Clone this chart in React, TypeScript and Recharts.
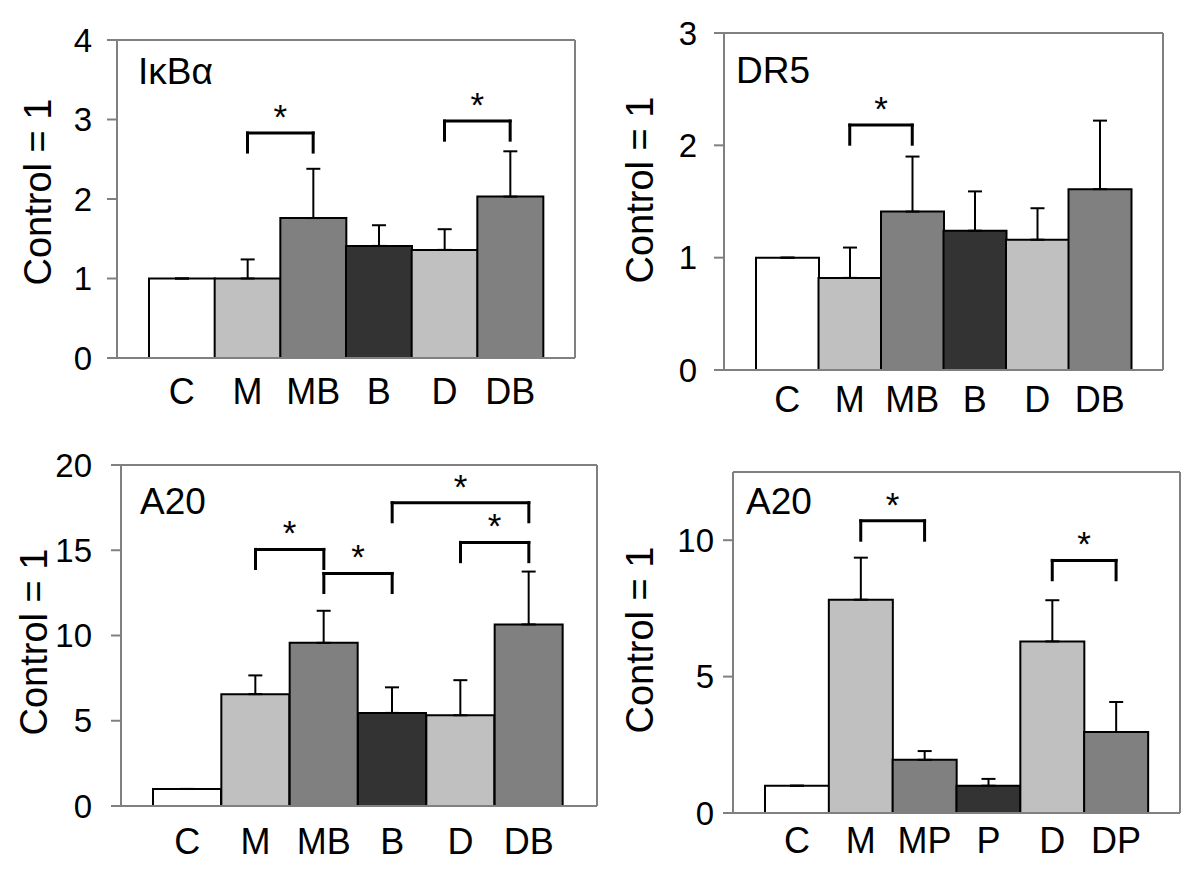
import { Bar, BarChart, CartesianGrid, Cell, ErrorBar, ReferenceLine, XAxis, YAxis } from 'recharts';

const FONT = '"Liberation Sans", Arial, Helvetica, sans-serif';
const FRAME = '#808080';

const groupsB = ['C', 'M', 'MB', 'B', 'D', 'DB'];
const groupsP = ['C', 'M', 'MP', 'P', 'D', 'DP'];
const fills = ['#ffffff', '#c0c0c0', '#808080', '#333333', '#c0c0c0', '#808080'];

// IκBα
const ikbaMean = [1, 1.0, 1.76, 1.41, 1.36, 2.03];
const ikbaSd = [0, 0.24, 0.62, 0.26, 0.26, 0.57];
const ikbaTicks = [0, 1, 2, 3, 4];
const ikbaSig = [
  { from: 'M', to: 'MB', top: 2.83, foot: 2.59 },
  { from: 'D', to: 'DB', top: 2.98, foot: 2.74 },
];

// DR5
const dr5Mean = [1, 0.82, 1.41, 1.24, 1.16, 1.61];
const dr5Sd = [0, 0.27, 0.49, 0.35, 0.28, 0.61];
const dr5Ticks = [0, 1, 2, 3];
const dr5Sig = [{ from: 'M', to: 'MB', top: 2.18, foot: 2.01 }];

// A20 (B series)
const a20bMean = [1, 6.56, 9.57, 5.46, 5.32, 10.65];
const a20bSd = [0, 1.1, 1.88, 1.5, 2.06, 3.1];
const a20bTicks = [0, 5, 10, 15, 20];
const a20bSig = [
  { from: 'M', to: 'MB', top: 15.05, foot: 13.93 },
  { from: 'MB', to: 'B', top: 13.64, foot: 12.52 },
  { from: 'B', to: 'DB', top: 17.79, foot: 16.67 },
  { from: 'D', to: 'DB', top: 15.46, foot: 14.33 },
];

// A20 (P series)
const a20pMean = [1, 7.82, 1.95, 1.0, 6.29, 2.97];
const a20pSd = [0, 1.54, 0.32, 0.25, 1.51, 1.1];
const a20pTicks = [0, 5, 10];
const a20pSig = [
  { from: 'M', to: 'MP', top: 10.71, foot: 10.0 },
  { from: 'D', to: 'DP', top: 9.26, foot: 8.55 },
];

type Sig = { from: string; to: string; top: number; foot: number };

interface PanelProps {
  title: string;
  groups: string[];
  mean: number[];
  sd: number[];
  ticks: number[];
  max: number;
  sig: Sig[];
  box: { left: number; top: number; width: number; height: number };
  pad: [number, number];
  tickGap: number;
  catGap: number;
  titleAt: [number, number];
  labelAt: [number, number];
}

const LEFT = 120;
const TOP = 40;

// top and right edges of the plot frame (the axes give left and bottom)
const frameTop = ({ offset }: any) => [offset.top];
const frameRight = ({ offset }: any) => [offset.left + offset.width];

function Panel(p: PanelProps) {
  const data = p.groups.map((name, i) => ({ name, value: p.mean[i], err: [0, p.sd[i]] }));
  const width = p.box.width + LEFT + 20;
  const height = p.box.height + TOP + 70;
  const frame = { stroke: FRAME, strokeWidth: 2 };
  const bracket = { stroke: '#000', strokeWidth: 3, strokeLinecap: 'square' as const, ifOverflow: 'visible' as const };

  return (
    <div style={{ position: 'absolute', left: p.box.left - LEFT, top: p.box.top - TOP }}>
      <BarChart width={width} height={height} data={data} margin={{ top: TOP, right: 20, bottom: 0, left: 0 }} barCategoryGap={0}>
        <CartesianGrid
          stroke={FRAME}
          strokeWidth={2}
          horizontalCoordinatesGenerator={frameTop}
          verticalCoordinatesGenerator={frameRight}
        />
        <XAxis
          dataKey="name"
          height={70}
          interval={0}
          padding={{ left: p.pad[0], right: p.pad[1] }}
          tickLine={false}
          tickSize={0}
          tickMargin={p.catGap}
          axisLine={frame}
          tick={{ fontSize: 36, fill: '#000', fontFamily: FONT }}
        />
        <YAxis
          domain={[0, p.max]}
          ticks={p.ticks}
          interval={0}
          width={LEFT}
          tickSize={10}
          tickMargin={p.tickGap}
          tickLine={frame}
          axisLine={frame}
          tick={{ fontSize: 33, fill: '#000', fontFamily: FONT }}
        />
        <Bar dataKey="value" stroke="#000" strokeWidth={2} isAnimationActive={false}>
          {data.map((d, i) => (
            <Cell key={d.name} fill={fills[i]} />
          ))}
          <ErrorBar dataKey="err" direction="y" width={7} stroke="#000" strokeWidth={2} isAnimationActive={false} />
        </Bar>
        {p.sig.map((s) => (
          <ReferenceLine
            key={`${s.from}-${s.to}-h`}
            {...bracket}
            segment={[{ x: s.from, y: s.top }, { x: s.to, y: s.top }]}
            label={{ value: '*', position: 'top', offset: 4, fontSize: 35, fill: '#000', fontFamily: FONT }}
          />
        ))}
        {p.sig.map((s) => (
          <ReferenceLine key={`${s.from}-${s.to}-a`} {...bracket} segment={[{ x: s.from, y: s.top }, { x: s.from, y: s.foot }]} />
        ))}
        {p.sig.map((s) => (
          <ReferenceLine key={`${s.from}-${s.to}-b`} {...bracket} segment={[{ x: s.to, y: s.top }, { x: s.to, y: s.foot }]} />
        ))}
        <text x={LEFT + p.titleAt[0]} y={TOP + p.titleAt[1]} fontSize={37} fontFamily={FONT} fill="#000">
          {p.title}
        </text>
        <text
          transform={`translate(${LEFT - p.labelAt[0] + 13.6},${TOP + p.labelAt[1]}) rotate(-90)`}
          textAnchor="middle"
          fontSize={38}
          fontFamily={FONT}
          fill="#000"
        >
          Control = 1
        </text>
      </BarChart>
    </div>
  );
}

export default function App() {
  return (
    <div style={{ position: 'absolute', left: 0, top: 0, width: 1200, height: 876, background: '#fff' }}>
      <Panel
        title="IκBα"
        groups={groupsB}
        mean={ikbaMean}
        sd={ikbaSd}
        ticks={ikbaTicks}
        max={4}
        sig={ikbaSig}
        box={{ left: 117, top: 40, width: 458, height: 318 }}
        pad={[32, 32]}
        tickGap={15}
        catGap={20}
        titleAt={[21, 44]}
        labelAt={[80, 152]}
      />
      <Panel
        title="DR5"
        groups={groupsB}
        mean={dr5Mean}
        sd={dr5Sd}
        ticks={dr5Ticks}
        max={3}
        sig={dr5Sig}
        box={{ left: 724, top: 33, width: 439, height: 337 }}
        pad={[32, 32]}
        tickGap={17}
        catGap={16}
        titleAt={[12, 50]}
        labelAt={[85, 157]}
      />
      <Panel
        title="A20"
        groups={groupsB}
        mean={a20bMean}
        sd={a20bSd}
        ticks={a20bTicks}
        max={20}
        sig={a20bSig}
        box={{ left: 121, top: 465, width: 476, height: 341 }}
        pad={[32, 34]}
        tickGap={19}
        catGap={22}
        titleAt={[19, 49]}
        labelAt={[88, 177]}
      />
      <Panel
        title="A20"
        groups={groupsP}
        mean={a20pMean}
        sd={a20pSd}
        ticks={a20pTicks}
        max={12.5}
        sig={a20pSig}
        box={{ left: 733, top: 472, width: 447, height: 341 }}
        pad={[32, 32]}
        tickGap={9}
        catGap={14}
        titleAt={[13, 42]}
        labelAt={[94, 168]}
      />
    </div>
  );
}
